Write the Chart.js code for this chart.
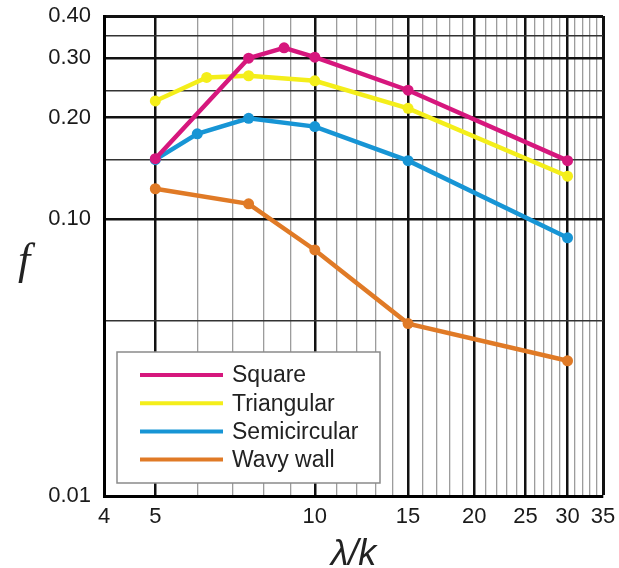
<!DOCTYPE html>
<html>
<head>
<meta charset="utf-8">
<script src="https://cdn.jsdelivr.net/npm/chart.js@4.4.1/dist/chart.umd.min.js"></script>
<style>
  body { margin: 0; background: #fff; }
  #wrap { width: 619px; height: 568px; position: relative; }
</style>
</head>
<body>
<div id="wrap"><canvas id="chart"></canvas></div>
<script>
// values (x = lambda/k, y = f)
const squareX = [5, 7.5, 8.75, 10, 15, 30];
const squareF = [0.151, 0.300, 0.322, 0.302, 0.241, 0.149];
const triangularX = [5, 6.25, 7.5, 10, 15, 30];
const triangularF = [0.224, 0.263, 0.266, 0.257, 0.213, 0.134];
const semicircularX = [5, 6, 7.5, 10, 15, 30];
const semicircularF = [0.150, 0.179, 0.199, 0.188, 0.149, 0.088];
const wavyX = [5, 7.5, 10, 15, 30];
const wavyF = [0.123, 0.111, 0.081, 0.049, 0.038];

const seriesNames = ["Square", "Triangular", "Semicircular", "Wavy wall"];
const seriesColors = ["#d6177d", "#f4ee1a", "#1795d5", "#e07a26"];

const xTicks = [4, 5, 10, 15, 20, 25, 30, 35];
const xMajor = [5, 10, 15, 20, 25, 30, 35];
const yTicks = [0.40, 0.30, 0.20, 0.10];
const yMinor = [0.35, 0.24, 0.15, 0.05];
// the source squeezes the lowest decade: its bottom edge is labelled 0.01
// but sits where ~0.0151 would fall on the upper part of the axis
const yBottom = 0.0151;
const yTop = 0.40;

const pts = (xs, ys) => xs.map((x, i) => ({ x: x, y: ys[i] }));

const font = "'Liberation Sans', Arial, sans-serif";

const makeSet = (i, xs, ys) => ({
  label: seriesNames[i],
  data: pts(xs, ys),
  borderColor: seriesColors[i],
  backgroundColor: seriesColors[i],
  borderWidth: 4.5,
  pointRadius: 5.5,
  pointBorderWidth: 0,
  pointBackgroundColor: seriesColors[i],
  tension: 0,
});

// legend box + axis titles drawn on the canvas
const extras = {
  id: "extras",
  afterDatasetsDraw(chart) {
    const ctx = chart.ctx;
    const ca = chart.chartArea;
    const bx = ca.left + 13, by = ca.bottom - 144, bw = 263, bh = 131;
    ctx.save();
    ctx.fillStyle = "#fff";
    ctx.fillRect(bx, by, bw, bh);
    ctx.strokeStyle = "#8a8a8a";
    ctx.lineWidth = 1.5;
    ctx.strokeRect(bx, by, bw, bh);
    ctx.font = "23px " + font;
    ctx.textBaseline = "middle";
    chart.data.datasets.forEach((ds, i) => {
      const y = by + 23 + i * 28.2;
      ctx.strokeStyle = ds.borderColor;
      ctx.lineWidth = 4;
      ctx.beginPath();
      ctx.moveTo(bx + 23, y);
      ctx.lineTo(bx + 106, y);
      ctx.stroke();
      ctx.fillStyle = "#222";
      ctx.fillText(ds.label, bx + 115, y + 1);
    });
    ctx.restore();
  },
  afterDraw(chart) {
    const ctx = chart.ctx;
    const ca = chart.chartArea;
    ctx.save();
    ctx.fillStyle = "#222";
    ctx.textAlign = "center";
    ctx.textBaseline = "alphabetic";
    ctx.font = "italic 44px 'Liberation Serif', 'Times New Roman', serif";
    ctx.fillText("f", 24, 274);
    ctx.font = "italic 36px " + font;
    ctx.fillText("λ/k", (ca.left + ca.right) / 2, 565);
    ctx.restore();
  },
};

new Chart(document.getElementById("chart"), {
  type: "line",
  data: {
    datasets: [
      makeSet(0, squareX, squareF),
      makeSet(1, triangularX, triangularF),
      makeSet(2, semicircularX, semicircularF),
      makeSet(3, wavyX, wavyF),
    ],
  },
  options: {
    responsive: true,
    maintainAspectRatio: false,
    animation: false,
    layout: { padding: { top: 16, right: 16, left: 0, bottom: 0 } },
    plugins: {
      legend: { display: false },
      tooltip: { enabled: false },
    },
    scales: {
      x: {
        type: "logarithmic",
        min: 4,
        max: 35,
        afterBuildTicks: (scale) => {
          const t = [];
          for (let v = 4; v <= 35; v++) t.push({ value: v });
          scale.ticks = t;
        },
        afterFit: (scale) => {
          scale.height = 72;
          scale.paddingLeft = 0;
          scale.paddingRight = 0;
        },
        ticks: {
          autoSkip: false,
          maxRotation: 0,
          padding: 8,
          color: "#1a1a1a",
          font: { family: font, size: 22 },
          callback: (v) => (xTicks.includes(v) ? String(v) : ""),
        },
        grid: {
          drawTicks: false,
          color: (c) => (xMajor.includes(c.tick.value) ? "#111" : "#9c9c9c"),
          lineWidth: (c) => {
            const v = c.tick.value;
            if (v === 35) return 3;
            return xMajor.includes(v) ? 2.5 : 1.3;
          },
        },
        border: { color: "#000", width: 3 },
      },
      y: {
        type: "logarithmic",
        min: yBottom,
        max: yTop,
        afterBuildTicks: (scale) => {
          scale.ticks = [yBottom].concat(yMinor, yTicks)
            .sort((a, b) => a - b)
            .map((v) => ({ value: v }));
        },
        afterFit: (scale) => {
          scale.width = 104;
          scale.paddingTop = 0;
          scale.paddingBottom = 0;
        },
        ticks: {
          autoSkip: false,
          padding: 13,
          color: "#1a1a1a",
          font: { family: font, size: 22 },
          callback: (v) => {
            if (v === yBottom) return "0.01";
            return yTicks.includes(v) ? v.toFixed(2) : "";
          },
        },
        grid: {
          drawTicks: false,
          color: (c) => (yMinor.includes(c.tick.value) ? "#333" : "#111"),
          lineWidth: (c) => {
            const v = c.tick.value;
            if (v === yTop) return 3;
            return yMinor.includes(v) ? 1.4 : 2.5;
          },
        },
        border: { color: "#000", width: 3 },
      },
    },
  },
  plugins: [extras],
});
</script>
</body>
</html>
